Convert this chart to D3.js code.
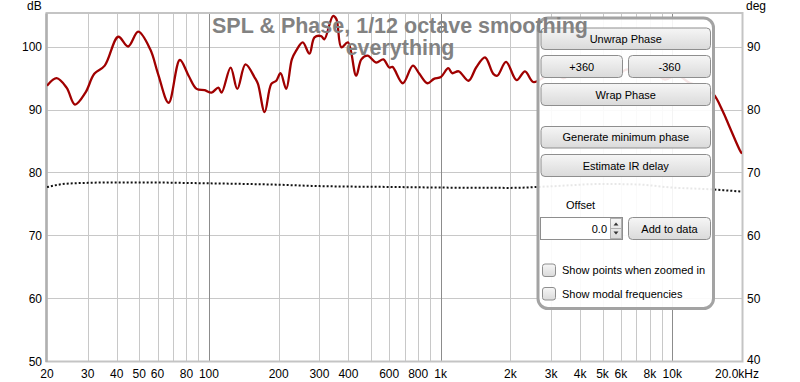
<!DOCTYPE html>
<html>
<head>
<meta charset="utf-8">
<script src="https://cdn.jsdelivr.net/npm/d3@7"></script>
<style>
	body { margin: 0; background: #fff; }
	text { font-family: "Liberation Sans", Arial, sans-serif; }
</style>
</head>
<body>
<script>
// SPL curve, 1/12 octave smoothing (Hz, dB)
var splFreq = [20, 22, 24.3, 26.4, 29.3, 32, 35.5, 40.6, 44.8, 49.5, 55.8, 60.3, 67, 74.9, 81.7, 88.5, 95.9,
	102.6, 109.8, 113.4, 124.1, 132.6, 143.8, 157.6, 162.8, 174, 185.9, 195.3, 203.8, 215.6, 228, 238, 254,
	271.6, 285.5, 305, 315, 343, 355, 373, 398, 432, 455, 484, 527, 566, 600, 620, 687, 759, 810, 878, 936,
	1003, 1079, 1122, 1197, 1320, 1424, 1556, 1688, 1758, 1916, 2129, 2314, 2511, 2750, 3000, 3400, 3900,
	4400, 5000, 5700, 6400, 7200, 8200, 9300, 10500, 11800, 13000, 14200, 15100, 16500, 17700, 19600, 20000];
var splDb = [93.8, 95.0, 93.5, 90.8, 92.7, 95.7, 97.0, 101.6, 100.05, 102.4, 99.6, 95.7, 91.1, 97.9, 95.4, 93.3, 93.1,
	92.7, 93.5, 92.7, 96.7, 93.3, 97.2, 95.1, 94.1, 89.6, 94.1, 94.6, 95.8, 93.3, 98.0, 99.4, 100.7,
	98.9, 101.5, 101.7, 101.2, 104.9, 104.4, 99.9, 100.7, 95.4, 98.0, 98.6, 97.5, 98.0, 96.7, 96.8, 94.2, 97.0, 95.7, 94.2, 94.9,
	95.2, 96.6, 95.8, 96.1, 94.6, 96.7, 98.3, 95.7, 95.4, 97.6, 94.7, 96.1, 94.4, 95.0, 96.3, 95.0, 96.8,
	95.3, 96.6, 95.4, 96.4, 95.2, 96.0, 94.8, 95.5, 94.3, 93.8, 93.0, 92.4, 89.8, 87.2, 83.5, 83.0];

// phase (Hz, deg)
var phaseFreq = [20, 24, 30, 40, 60, 90, 200, 300, 600, 1000, 2000, 3000, 5000, 7000, 10000, 15000, 20000];
var phaseDeg = [67.67, 68.2, 68.35, 68.42, 68.4, 68.3, 68.05, 67.83, 67.7, 67.6, 67.55, 67.8, 68.17, 68.1, 67.6, 67.3, 66.95];

// axis ticks
var gridFreqs = [30, 40, 50, 60, 70, 80, 90, 100, 200, 300, 400, 500, 600, 700, 800, 900, 1000,
	2000, 3000, 4000, 5000, 6000, 7000, 8000, 9000, 10000];
var decadeFreqs = [100, 1000, 10000];
var freqLabels = [[20, "20"], [30, "30"], [40, "40"], [50, "50"], [60, "60"], [80, "80"], [100, "100"],
	[200, "200"], [300, "300"], [400, "400"], [600, "600"], [800, "800"], [1000, "1k"], [2000, "2k"],
	[3000, "3k"], [4000, "4k"], [5000, "5k"], [6000, "6k"], [8000, "8k"], [10000, "10k"], [20000, "20.0kHz"]];
var dbTicks = [50, 60, 70, 80, 90, 100];
var degTicks = [40, 50, 60, 70, 80, 90];

var titleLines = ["SPL & Phase, 1/12 octave smoothing", "everything"];

var params = {
	width: 800, height: 382,
	left: 47, right: 742, top: 13.5, bottom: 361,
	red: "#a00000", gridColor: "#c8c8c8", decadeColor: "#8c8c8c"
};

function createSVG(){
	params.svg = d3.select("body").append("svg")
		.attr("width", params.width)
		.attr("height", params.height);

	params.x = d3.scaleLog().domain([20, 20000]).range([params.left, params.right]);
	params.y = d3.scaleLinear().domain([50, 105.3]).range([params.bottom, params.top]);
	params.yDeg = d3.scaleLinear().domain([40, 95.3]).range([params.bottom, params.top]);

	params.svg.append("defs").append("clipPath").attr("id", "plotClip")
		.append("rect")
			.attr("x", params.left).attr("y", params.top)
			.attr("width", params.right - params.left)
			.attr("height", params.bottom - params.top);
}

function drawGrid(){
	var svg = params.svg, x = params.x, y = params.y;
	var g = svg.append("g").attr("class", "grid");

	g.selectAll(".hline").data(dbTicks).enter().append("line")
		.attr("x1", params.left).attr("x2", params.right)
		.attr("y1", function(d){ return Math.round(y(d)) + 0.5; })
		.attr("y2", function(d){ return Math.round(y(d)) + 0.5; })
		.style("stroke", params.gridColor);

	g.selectAll(".vline").data(gridFreqs).enter().append("line")
		.attr("x1", function(d){ return Math.round(x(d)) + 0.5; })
		.attr("x2", function(d){ return Math.round(x(d)) + 0.5; })
		.attr("y1", params.top).attr("y2", params.bottom)
		.style("stroke", function(d){ return decadeFreqs.includes(d) ? params.decadeColor : params.gridColor; });

	// frame
	svg.append("rect")
		.attr("x", params.left - 0.5).attr("y", params.top - 0.5)
		.attr("width", params.right - params.left + 1)
		.attr("height", params.bottom - params.top + 1)
		.style("fill", "none")
		.style("stroke", "#c4c4c4")
		.style("stroke-width", 2);
	svg.append("line")
		.attr("x1", params.left - 0.5).attr("x2", params.left - 0.5)
		.attr("y1", params.top).attr("y2", params.bottom + 1)
		.style("stroke", "#b0b0b0").style("stroke-width", 2.5);
}

function drawAxes(){
	var svg = params.svg;

	svg.append("g").selectAll("text").data(freqLabels).enter().append("text")
		.attr("x", function(d){ return d[0] === 20000 ? params.x(d[0]) - 5 : params.x(d[0]); })
		.attr("y", 377.5)
		.style("font-size", "12px")
		.style("text-anchor", "middle")
		.text(function(d){ return d[1]; });

	svg.append("g").selectAll("text").data(dbTicks).enter().append("text")
		.attr("x", 42)
		.attr("y", function(d){ return params.y(d) + 4.5; })
		.style("font-size", "12px")
		.style("text-anchor", "end")
		.text(function(d){ return d; });

	// the lowest right label sits a touch higher so it clears "20.0kHz"
	svg.append("g").selectAll("text").data(degTicks).enter().append("text")
		.attr("x", 747)
		.attr("y", function(d){ return params.yDeg(d) + (d === 40 ? 2.5 : 4.5); })
		.style("font-size", "12px")
		.text(function(d){ return d; });

	svg.append("text").attr("x", 27).attr("y", 10).style("font-size", "12px").text("dB");
	svg.append("text").attr("x", 746).attr("y", 10).style("font-size", "12px").text("deg");
}

function drawCurves(){
	var x = params.x;
	var g = params.svg.append("g").attr("clip-path", "url(#plotClip)");

	var phaseLine = d3.line()
		.curve(d3.curveMonotoneX)
		.x(function(d, i){ return x(phaseFreq[i]); })
		.y(function(d){ return params.yDeg(d); });

	g.append("path")
		.datum(phaseDeg)
		.attr("d", phaseLine)
		.style("fill", "none")
		.style("stroke", "#111")
		.style("stroke-width", 2)
		.style("stroke-dasharray", "2,2");

	var splLine = d3.line()
		.curve(d3.curveCatmullRom.alpha(0.5))
		.x(function(d, i){ return x(splFreq[i]); })
		.y(function(d){ return params.y(d); });

	g.append("path")
		.datum(splDb)
		.attr("d", splLine)
		.style("fill", "none")
		.style("stroke", params.red)
		.style("stroke-width", 2.3)
		.style("stroke-linejoin", "round");
}

function drawTitle(){
	params.svg.append("g").selectAll("text").data(titleLines).enter().append("text")
		.attr("x", 400)
		.attr("y", function(d, i){ return 33 + i * 22; })
		.style("font-size", "21.5px")
		.style("font-weight", "bold")
		.style("fill", "#828282")
		.style("text-anchor", "middle")
		.text(function(d){ return d; });
}

///////////////////////////
// the control panel on top of the graph
///////////////////////////
function drawPanel(){
	var svg = params.svg;
	var defs = svg.select("defs");
	var grad = defs.append("linearGradient").attr("id", "btnGrad")
		.attr("x1", 0).attr("y1", 0).attr("x2", 0).attr("y2", 1);
	grad.append("stop").attr("offset", "0%").attr("stop-color", "#f6f6f6");
	grad.append("stop").attr("offset", "100%").attr("stop-color", "#dadada");

	var p = svg.append("g").attr("class", "panel");
	p.append("rect")
		.attr("x", 538).attr("y", 18).attr("width", 175.5).attr("height", 290.5).attr("rx", 10)
		.style("fill", "#fff").style("fill-opacity", 0.9)
		.style("stroke", "#a3a3a3").style("stroke-width", 3);

	var buttons = [
		{x: 541, y: 28, w: 169.5, h: 21.5, label: "Unwrap Phase"},
		{x: 541, y: 55.5, w: 81.5, h: 22, label: "+360"},
		{x: 628.5, y: 55.5, w: 82, h: 22, label: "-360"},
		{x: 541, y: 83.5, w: 169.5, h: 22, label: "Wrap Phase"},
		{x: 541, y: 126.5, w: 169.5, h: 21.5, label: "Generate minimum phase"},
		{x: 541, y: 154.5, w: 169.5, h: 22, label: "Estimate IR delay"},
		{x: 628.5, y: 217.5, w: 82, h: 22, label: "Add to data"}
	];
	var b = p.selectAll(".btn").data(buttons).enter().append("g").attr("class", "btn");
	b.append("rect")
		.attr("x", function(d){ return d.x; }).attr("y", function(d){ return d.y; })
		.attr("width", function(d){ return d.w; }).attr("height", function(d){ return d.h; })
		.attr("rx", 4)
		.style("fill", "url(#btnGrad)")
		.style("stroke", "#8e8e8e");
	b.append("text")
		.attr("x", function(d){ return d.x + d.w / 2; })
		.attr("y", function(d){ return d.y + d.h / 2 + 4; })
		.style("font-size", "11px")
		.style("text-anchor", "middle")
		.text(function(d){ return d.label; });

	p.append("text").attr("x", 566).attr("y", 209).style("font-size", "11px").text("Offset");

	// spinner box
	p.append("rect").attr("x", 540.5).attr("y", 217.5).attr("width", 82).attr("height", 22)
		.style("fill", "#fff").style("stroke", "#8e8e8e");
	p.append("text").attr("x", 607).attr("y", 232.5).style("font-size", "11px")
		.style("text-anchor", "end").text("0.0");
	p.append("rect").attr("x", 610.5).attr("y", 218.5).attr("width", 11).attr("height", 20)
		.style("fill", "url(#btnGrad)").style("stroke", "#b0b0b0");
	p.append("line").attr("x1", 611).attr("x2", 621).attr("y1", 228.5).attr("y2", 228.5).style("stroke", "#b0b0b0");
	p.append("path").attr("d", "M613.5,225.5 L616,222.5 L618.5,225.5 Z").style("fill", "#333");
	p.append("path").attr("d", "M613.5,231.5 L616,234.5 L618.5,231.5 Z").style("fill", "#333");

	// checkboxes
	var checks = [{y: 264, label: "Show points when zoomed in"}, {y: 287.5, label: "Show modal frequencies"}];
	var c = p.selectAll(".chk").data(checks).enter().append("g").attr("class", "chk");
	c.append("rect")
		.attr("x", 542.5).attr("y", function(d){ return d.y; })
		.attr("width", 13).attr("height", 12.5).attr("rx", 2.5)
		.style("fill", "url(#btnGrad)").style("stroke", "#8e8e8e");
	c.append("text")
		.attr("x", 562).attr("y", function(d){ return d.y + 10; })
		.style("font-size", "11px")
		.text(function(d){ return d.label; });
}

///////////////////////////////
//runs on load
createSVG();
drawGrid();
drawCurves();
drawAxes();
drawPanel();
drawTitle();
</script>
</body>
</html>
